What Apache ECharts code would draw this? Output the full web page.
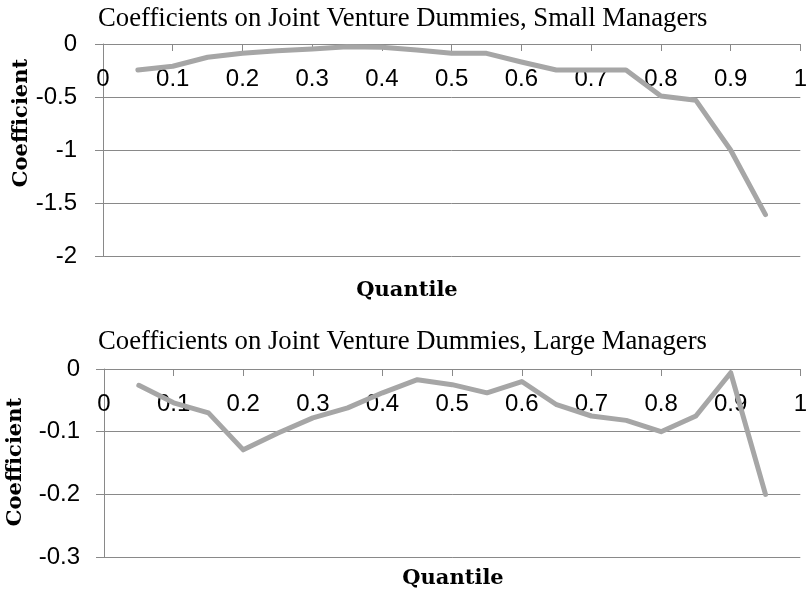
<!DOCTYPE html>
<html>
<head>
<meta charset="utf-8">
<script src="https://cdn.jsdelivr.net/npm/echarts@6/dist/echarts.min.js"></script>
<style>
  html, body { margin: 0; padding: 0; background: #fff; }
  #chart { width: 810px; height: 594px; }
</style>
</head>
<body>
<div id="chart"></div>
<script>
const quantiles = [0.05, 0.1, 0.15, 0.2, 0.25, 0.3, 0.35, 0.4, 0.45, 0.5,
  0.55, 0.6, 0.65, 0.7, 0.75, 0.8, 0.85, 0.9, 0.95];
const smallCoef = [-0.245, -0.21, -0.125, -0.088, -0.063, -0.047, -0.025, -0.03, -0.057, -0.088,
  -0.088, -0.17, -0.245, -0.245, -0.245, -0.49, -0.53, -1.0, -1.61];
const largeCoef = [-0.026, -0.054, -0.07, -0.129, -0.102, -0.078, -0.062, -0.038, -0.017, -0.025,
  -0.038, -0.02, -0.057, -0.075, -0.082, -0.1, -0.075, -0.006, -0.2];

const titles = ['Coefficients on Joint Venture Dummies, Small Managers',
  'Coefficients on Joint Venture Dummies, Large Managers'];
const xName = 'Quantile';
const yName = 'Coefficient';

const axisColor = '#898989';
const lineColor = '#a6a6a6';
const labelFont = { fontFamily: 'Liberation Sans', fontSize: 24, color: '#000' };
const nameFont = { fontFamily: 'DejaVu Serif', fontWeight: 'bold', fontSize: 21, fill: '#000' };
const titleFont = { fontFamily: 'Liberation Serif', fontWeight: 'normal', fontSize: 26.7, color: '#000' };

// x axis sits on the zero line, which is the top of each plot; labels hang below it
function xAxisFor(gridIndex) {
  return {
    type: 'value', gridIndex, min: 0, max: 1, interval: 0.1, position: 'top',
    axisLine: { lineStyle: { color: axisColor, width: 1 } },
    axisTick: { show: true, inside: true, length: 7, lineStyle: { color: axisColor } },
    axisLabel: Object.assign({ inside: true, margin: 23, formatter: v => String(+v.toFixed(1)) }, labelFont),
    splitLine: { show: false }
  };
}

function yAxisFor(gridIndex, min, interval, margin) {
  return {
    type: 'value', gridIndex, min, max: 0, interval,
    axisLine: { show: true, lineStyle: { color: axisColor, width: 1 } },
    axisTick: { show: true, length: 8, lineStyle: { color: axisColor } },
    axisLabel: Object.assign({ margin }, labelFont),
    splitLine: { show: true, lineStyle: { color: axisColor, width: 1 } }
  };
}

function seriesFor(idx, values) {
  return {
    type: 'line', xAxisIndex: idx, yAxisIndex: idx,
    data: quantiles.map((q, i) => [q, values[i]]),
    showSymbol: false, symbol: 'none',
    lineStyle: { color: lineColor, width: 5, cap: 'round', join: 'round' }
  };
}

const chart = echarts.init(document.getElementById('chart'), null, { renderer: 'canvas' });
chart.setOption({
  animation: false,
  backgroundColor: '#fff',
  title: [
    { text: titles[0], left: 93, top: 0, textStyle: titleFont },
    { text: titles[1], left: 93, top: 323, textStyle: titleFont }
  ],
  grid: [
    { left: 103, top: 44, width: 698, height: 212 },
    { left: 104, top: 369, width: 697, height: 188 }
  ],
  xAxis: [xAxisFor(0), xAxisFor(1)],
  yAxis: [yAxisFor(0, -2, 0.5, 26), yAxisFor(1, -0.3, 0.1, 24)],
  series: [seriesFor(0, smallCoef), seriesFor(1, largeCoef)],
  graphic: [
    { type: 'text', x: 407, y: 291,
      style: Object.assign({ text: xName, align: 'center', verticalAlign: 'middle' }, nameFont) },
    { type: 'text', x: 453, y: 579,
      style: Object.assign({ text: xName, align: 'center', verticalAlign: 'middle' }, nameFont) },
    { type: 'text', x: 22, y: 123, rotation: Math.PI / 2,
      style: Object.assign({ text: yName, align: 'center', verticalAlign: 'middle' }, nameFont) },
    { type: 'text', x: 16, y: 462, rotation: Math.PI / 2,
      style: Object.assign({ text: yName, align: 'center', verticalAlign: 'middle' }, nameFont) }
  ]
});
</script>
</body>
</html>
